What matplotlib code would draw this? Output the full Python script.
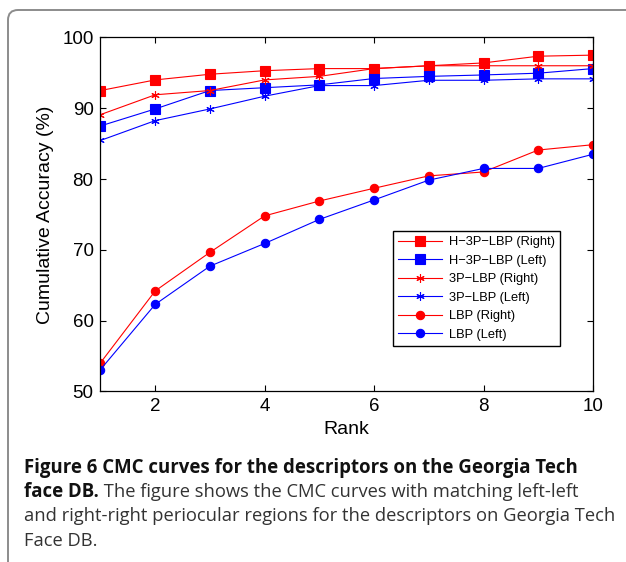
import matplotlib; matplotlib.use("Agg")
import matplotlib.pyplot as plt
import matplotlib.patches as patches
import numpy as np

plt.rcParams["font.family"] = ["Liberation Sans", "DejaVu Sans"]

rank = [1, 2, 3, 4, 5, 6, 7, 8, 9, 10]
h3p_right = [92.5, 94.0, 94.8, 95.3, 95.6, 95.6, 96.0, 96.4, 97.35, 97.5]
h3p_left = [87.5, 89.9, 92.5, 92.9, 93.3, 94.2, 94.5, 94.7, 94.95, 95.6]
p3_right = [89.1, 91.9, 92.5, 94.0, 94.5, 95.6, 96.0, 96.0, 96.0, 96.0]
p3_left = [85.45, 88.25, 89.9, 91.7, 93.2, 93.2, 93.95, 93.95, 94.15, 94.15]
lbp_right = [54.05, 64.2, 69.65, 74.8, 76.9, 78.7, 80.45, 81.0, 84.1, 84.85]
lbp_left = [53.1, 62.3, 67.7, 70.9, 74.3, 77.05, 79.85, 81.5, 81.5, 83.5]
labels = ["H\u22123P\u2212LBP (Right)", "H\u22123P\u2212LBP (Left)",
          "3P\u2212LBP (Right)", "3P\u2212LBP (Left)",
          "LBP (Right)", "LBP (Left)"]

fig = plt.figure(figsize=(6.26, 5.62), dpi=100)
ax = fig.add_axes([0.1605, 0.3034, 0.7867, 0.63])

star = (6, 2, 0)
series = [
    (h3p_right, "#ff0000", "s", 6.5),
    (h3p_left, "#0000ff", "s", 6.5),
    (p3_right, "#ff0000", star, 6),
    (p3_left, "#0000ff", star, 6),
    (lbp_right, "#ff0000", "o", 6),
    (lbp_left, "#0000ff", "o", 6),
]
for (vals, col, mk, ms), lab in zip(series, labels):
    ax.plot(rank, vals, color=col, marker=mk, markersize=ms, lw=0.8,
            markeredgecolor=col, markerfacecolor=col, markeredgewidth=0.8, label=lab)

ax.set_xlim(1, 10)
ax.set_ylim(50, 100)
ax.set_xticks([2, 4, 6, 8, 10])
ax.set_yticks([50, 60, 70, 80, 90, 100])
ax.tick_params(direction="in", top=True, right=True, length=4, width=0.8,
               labelsize=13.5, pad=5)
for s in ax.spines.values():
    s.set_linewidth(0.9)
ax.set_xlabel("Rank", fontsize=14, labelpad=4)
ax.set_ylabel("Cumulative Accuracy (%)", fontsize=14, labelpad=6)

leg = ax.legend(loc="lower right", bbox_to_anchor=(0.933, 0.129), fontsize=9.3,
                fancybox=False, edgecolor="black", framealpha=1, handlelength=3.4,
                labelspacing=0.5, borderaxespad=0, handletextpad=0.5,
                borderpad=0.4)
leg.get_frame().set_linewidth(1.0)

# journal-style frame around the figure
frame = patches.FancyBboxPatch((0.08, -0.5), 7.0, 6.02,
                               boxstyle="round,pad=0,rounding_size=0.1",
                               transform=fig.dpi_scale_trans, fill=False,
                               edgecolor="#8c8c8c", linewidth=1.4, clip_on=False)
fig.add_artist(frame)

cap = ["Open Sans", "DejaVu Sans"]
x0 = 24 / 626
fs = 13.2
fig.text(x0, 1 - 472.7 / 562, "Figure 6 CMC curves for the descriptors on the Georgia Tech",
         fontsize=13.4, fontweight="bold", family=cap, va="baseline", color="#111111")
t = fig.text(x0, 1 - 496.7 / 562, "face DB.", fontsize=13.4, fontweight="bold",
             family=cap, va="baseline", color="#111111")
fig.canvas.draw()
bb = t.get_window_extent()
fig.text(bb.x1 / fig.bbox.width, 1 - 496.7 / 562,
         " The figure shows the CMC curves with matching left-left",
         fontsize=fs, family=cap, va="baseline", color="#333333")
fig.text(x0, 1 - 520.7 / 562,
         "and right-right periocular regions for the descriptors on Georgia Tech",
         fontsize=fs, family=cap, va="baseline", color="#333333")
fig.text(x0, 1 - 545.5 / 562, "Face DB.", fontsize=fs, family=cap,
         va="baseline", color="#333333")

plt.savefig("out.png", dpi=100)
